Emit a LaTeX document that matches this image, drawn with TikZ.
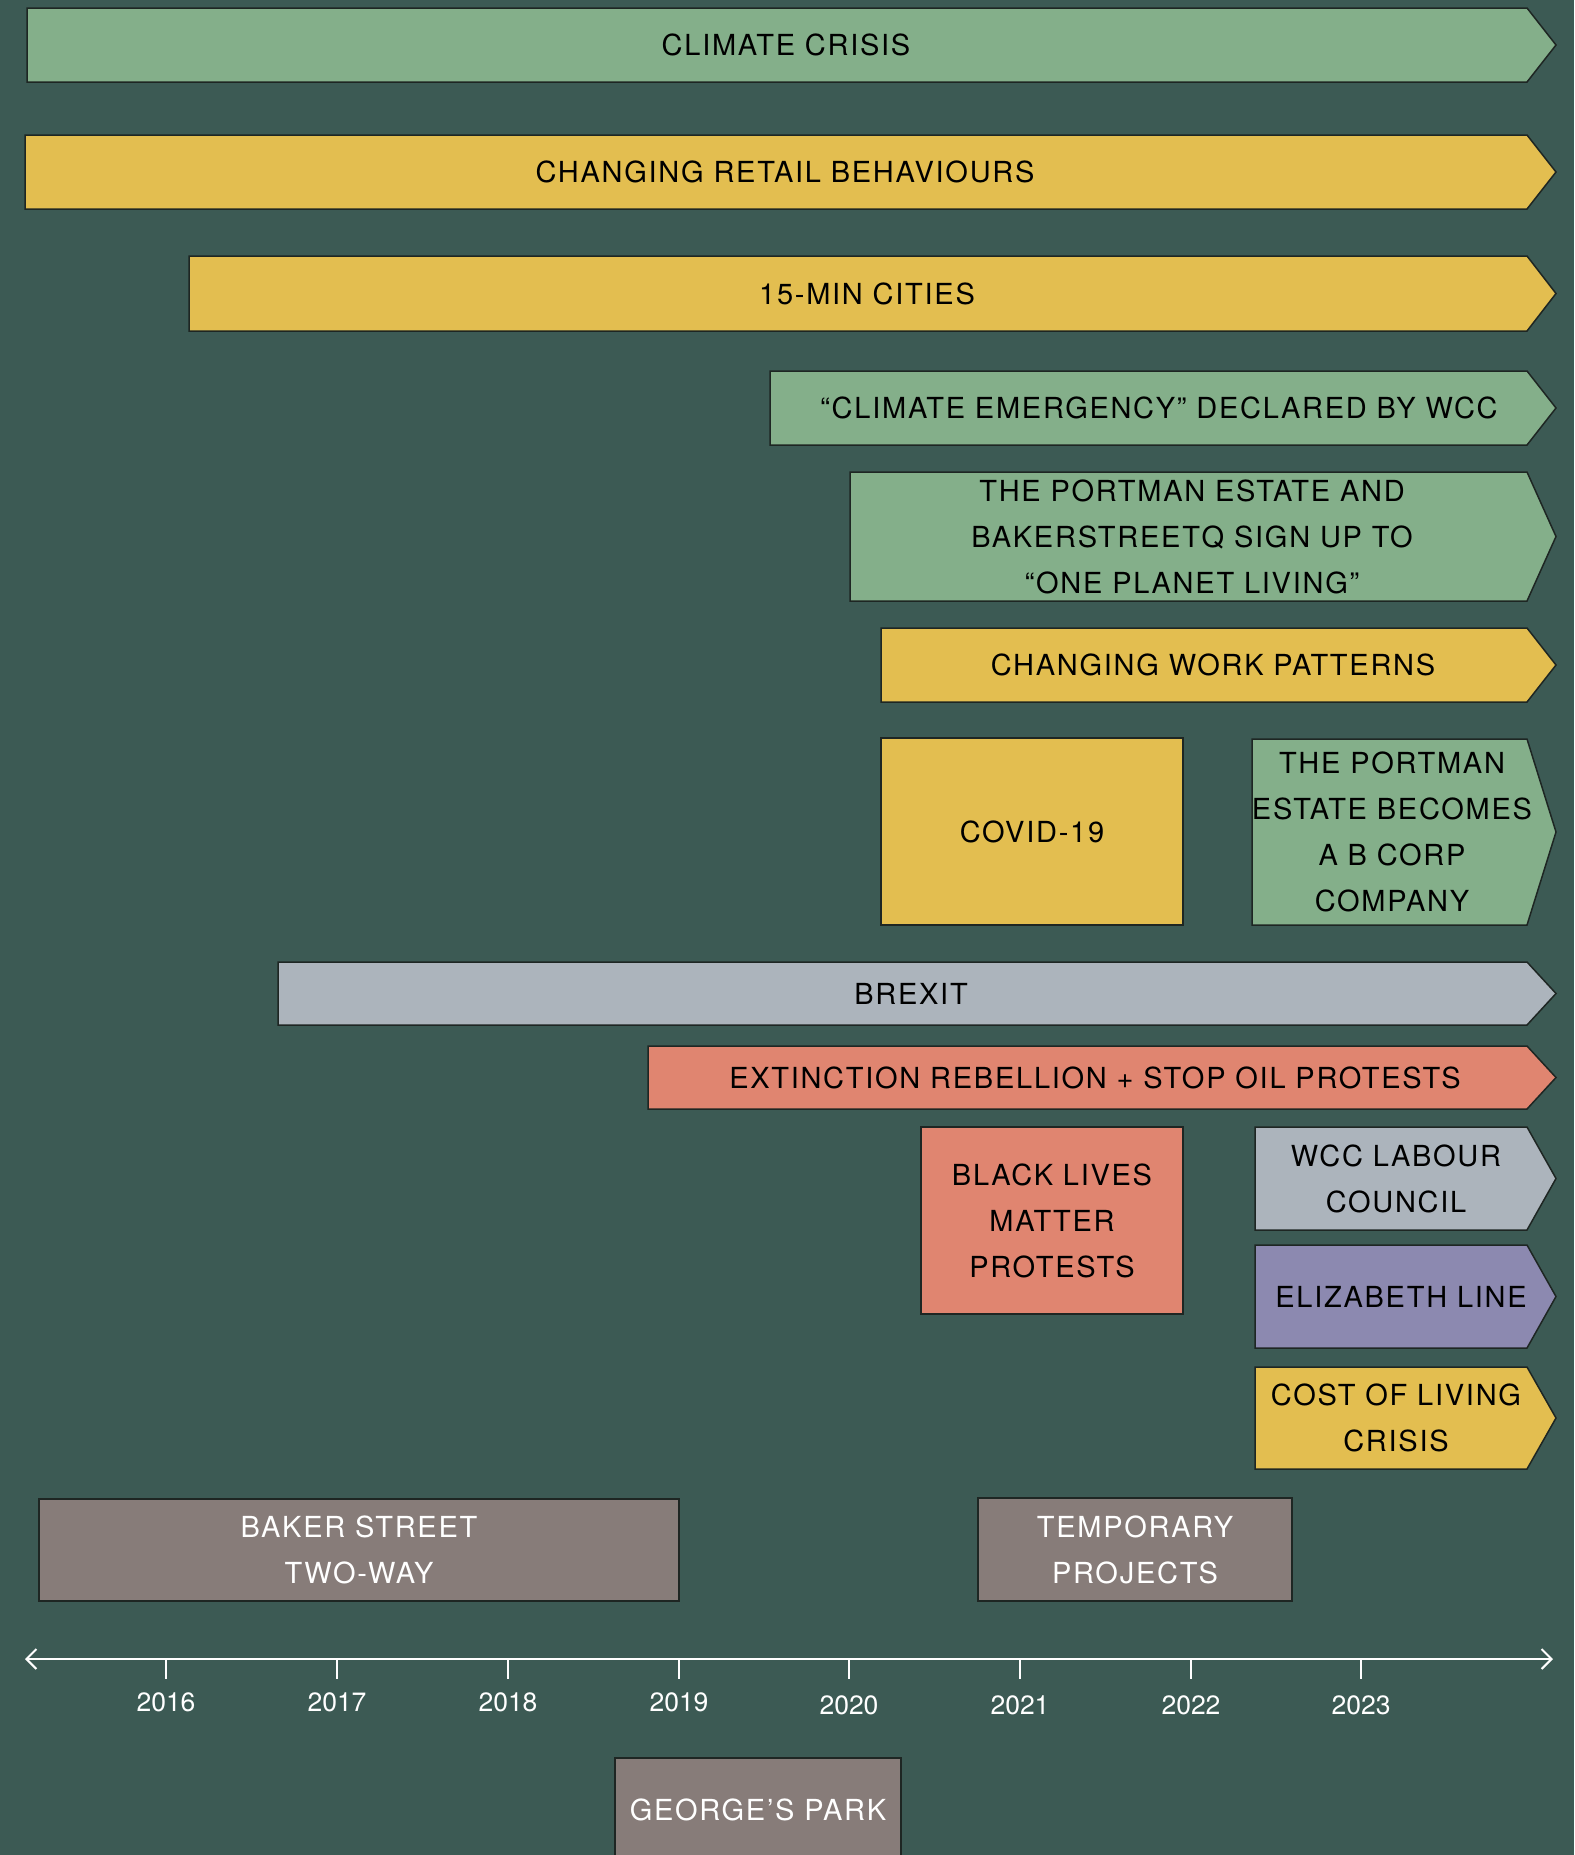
\documentclass[tikz,border=0pt]{standalone}
\usepackage{fontspec}
\setmainfont{TeX Gyre Heros}
\newfontfamily\labfont[LetterSpace=6]{TeX Gyre Heros}
\usetikzlibrary{arrows.meta}
\definecolor{bg}{HTML}{3C5A54}
\definecolor{cgreen}{HTML}{84AF8A}
\definecolor{cyellow}{HTML}{E3BE50}
\definecolor{cgrey}{HTML}{ACB4BC}
\definecolor{cred}{HTML}{E08570}
\definecolor{cpurple}{HTML}{8C89B0}
\definecolor{cbrown}{HTML}{877C79}
\definecolor{edge}{HTML}{1E2623}
\tikzset{
  bx/.style={draw=edge, line width=1.5pt, line join=miter},
  lab/.style={font=\labfont\fontsize{29}{46}\selectfont, text=black, align=center, inner sep=0pt},
  wlab/.style={lab, text=white},
  yr/.style={font=\fontsize{26.5}{30}\selectfont, text=white, inner sep=0pt},
  axisline/.style={draw=white, line width=2pt, {Straight Barb[length=10pt,width=20pt]}-{Straight Barb[length=10pt,width=20pt]}},
  tickline/.style={draw=white, line width=1.5pt},
}
% name, left, top, bottom, colour, text x, text
\newcommand\evarrow[7]{%
  \draw[bx, fill=#5] (#2,#3) -- (1527,#3) -- (1556,{(#3+#4)/2}) -- (1527,#4) -- (#2,#4) -- cycle;
  \node[lab] (#1) at (#6,{(#3+#4)/2}) {#7};
}
% name, left, right, top, bottom, colour, style, text
\newcommand\evrect[8]{%
  \draw[bx, fill=#6] (#2,#4) rectangle (#3,#5);
  \node[#7] (#1) at ({(#2+#3)/2},{(#4+#5)/2}) {#8};
}
\begin{document}
\begin{tikzpicture}[x=1pt,y=-1pt]
\useasboundingbox (0,0) rectangle (1574,1855);
\clip (0,0) rectangle (1574,1855);
\fill[bg] (0,0) rectangle (1574,1855);

\evarrow{climate}{27}{8}{82}{cgreen}{786}{CLIMATE CRISIS}
\evarrow{retail}{25}{135}{209}{cyellow}{785}{CHANGING RETAIL BEHAVIOURS}
\evarrow{fifteen}{189}{256}{331}{cyellow}{867}{15-MIN CITIES}
\evarrow{emergency}{770}{371}{445}{cgreen}{1159}{“CLIMATE EMERGENCY” DECLARED BY WCC}
\evarrow{portman}{850}{472}{601}{cgreen}{1192}{THE PORTMAN ESTATE AND\\BAKERSTREETQ SIGN UP TO\\“ONE PLANET LIVING”}
\evarrow{work}{881}{628}{702}{cyellow}{1213}{CHANGING WORK PATTERNS}
\evrect{covid}{881}{1183}{738}{925}{cyellow}{lab}{COVID-19}
\evarrow{bcorp}{1252}{739}{925}{cgreen}{1392}{THE PORTMAN\\ESTATE BECOMES\\A B CORP\\COMPANY}
\evarrow{brexit}{278}{962}{1025}{cgrey}{911}{BREXIT}
\evarrow{extinction}{648}{1046}{1109}{cred}{1095}{EXTINCTION REBELLION + STOP OIL PROTESTS}
\evrect{blm}{921}{1183}{1127}{1314}{cred}{lab}{BLACK LIVES\\MATTER\\PROTESTS}
\evarrow{wcc}{1255}{1127}{1230}{cgrey}{1396}{WCC LABOUR\\COUNCIL}
\evarrow{elizabeth}{1255}{1245}{1348}{cpurple}{1401}{ELIZABETH LINE}
\evarrow{costliving}{1255}{1367}{1469}{cyellow}{1396}{COST OF LIVING\\CRISIS}
\evrect{baker}{39}{679}{1499}{1601}{cbrown}{wlab}{BAKER STREET\\TWO-WAY}
\evrect{temporary}{978}{1292}{1498}{1601}{cbrown}{wlab}{TEMPORARY\\PROJECTS}
\draw[bx, fill=cbrown] (615,1758) rectangle (901,1870);
\node[wlab] (georges) at (758,1810) {GEORGE’S PARK};

% timeline
\coordinate (axl) at (25,1659);
\coordinate (axr) at (1553,1659);
\draw[axisline] (axl) -- (axr);
\foreach \x/\yr/\ty in {166/2016/1702,337/2017/1702,508/2018/1702,679/2019/1702,849/2020/1705,1020/2021/1705,1191/2022/1705,1361/2023/1705}{
  \coordinate (t\yr) at (\x,1659);
  \coordinate (tb\yr) at (\x,1679);
  \draw[tickline] (t\yr) -- (tb\yr);
  \node[yr] (y\yr) at (\x,\ty) {\yr};
}
\end{tikzpicture}
\end{document}
